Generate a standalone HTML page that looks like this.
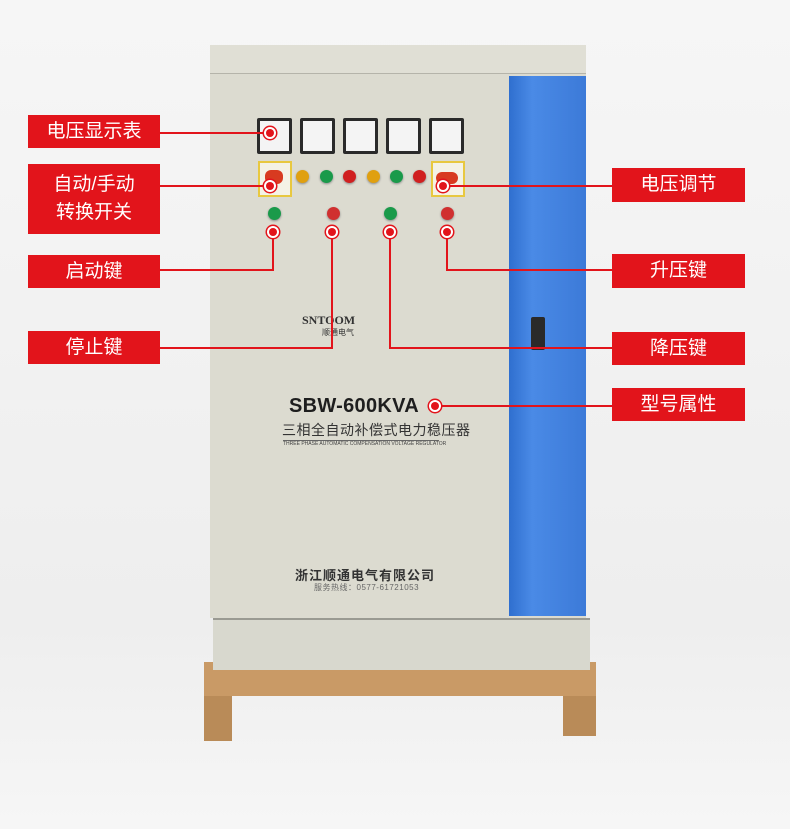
<!DOCTYPE html>
<html><head><meta charset="utf-8"><style>
body{margin:0;width:790px;height:829px;background:#f3f3f3;position:relative;overflow:hidden;font-family:"Liberation Sans","Noto Sans CJK SC",sans-serif}
.a{position:absolute}
.lbl{position:absolute;background:#e2141b;color:#fff;font-size:19px;text-align:center;box-sizing:border-box;display:flex;align-items:center;justify-content:center;line-height:1.45;font-family:"Liberation Sans","Noto Sans CJK SC",sans-serif}
.h{position:absolute;height:2px;background:#e2141b}
.v{position:absolute;width:2px;background:#e2141b}
.dot{position:absolute;width:8px;height:8px;border-radius:50%;background:#e2141b;box-shadow:0 0 0 2px #fff,0 0 0 3.5px #e2141b;transform:translate(-4px,-4px)}
.m{position:absolute;width:35px;height:36px;background:#2a2a2a;border-radius:2px}
.m i{position:absolute;left:3px;top:3px;right:3px;bottom:3px;background:#f4f4f4}
.lt{position:absolute;width:13px;height:13px;border-radius:50%;transform:translate(-6px,-6px);box-shadow:0 1px 2px #888}
</style></head><body>
<div class="a" style="left:0;top:0;width:790px;height:829px;background:linear-gradient(#f6f6f6,#eeeeee 75%,#f6f6f6)"></div>
<!-- pallet -->
<div class="a" style="left:204px;top:662px;width:392px;height:34px;background:#c99a66"></div>
<div class="a" style="left:204px;top:696px;width:28px;height:45px;background:#b98b58"></div>
<div class="a" style="left:563px;top:696px;width:33px;height:40px;background:#b98b58"></div>
<!-- bottom panel -->
<div class="a" style="left:213px;top:618px;width:377px;height:50px;background:#d8d8ce;border-top:2px solid #9a9a92"></div>
<!-- cabinet -->
<div class="a" style="left:210px;top:45px;width:376px;height:573px;background:#dcdbd0"></div>
<div class="a" style="left:210px;top:45px;width:376px;height:28px;background:#e0dfd5;border-bottom:1px solid #b5b4aa"></div>
<div class="a" style="left:509px;top:76px;width:77px;height:540px;background:linear-gradient(90deg,#2f6fcf,#4a8ae6 30%,#3c7ad8)"></div>
<div class="a" style="left:531px;top:317px;width:14px;height:33px;background:#2a2a2a;border-radius:2px"></div>
<!-- meters -->
<div class="m" style="left:257px;top:118px"><i></i></div>
<div class="m" style="left:300px;top:118px"><i></i></div>
<div class="m" style="left:343px;top:118px"><i></i></div>
<div class="m" style="left:386px;top:118px"><i></i></div>
<div class="m" style="left:429px;top:118px"><i></i></div>
<!-- switches -->
<div class="a" style="left:258px;top:161px;width:30px;height:32px;background:#f4f2e6;border:2px solid #e8c840"></div>
<div class="a" style="left:265px;top:170px;width:18px;height:14px;background:#d83a20;border-radius:6px"></div>
<div class="a" style="left:431px;top:161px;width:30px;height:32px;background:#f4f2e6;border:2px solid #e8c840"></div>
<div class="a" style="left:436px;top:172px;width:22px;height:12px;background:#d83a20;border-radius:6px"></div>
<!-- lights -->
<div class="lt" style="left:302px;top:176px;background:#e0a010"></div>
<div class="lt" style="left:326px;top:176px;background:#1a9a4a"></div>
<div class="lt" style="left:349px;top:176px;background:#d02020"></div>
<div class="lt" style="left:373px;top:176px;background:#e0a010"></div>
<div class="lt" style="left:396px;top:176px;background:#1a9a4a"></div>
<div class="lt" style="left:419px;top:176px;background:#d02020"></div>
<div class="lt" style="left:274px;top:213px;background:#1a9a4a"></div>
<div class="lt" style="left:333px;top:213px;background:#d03030"></div>
<div class="lt" style="left:390px;top:213px;background:#1a9a4a"></div>
<div class="lt" style="left:447px;top:213px;background:#d03030"></div>
<!-- text on cabinet -->
<div class="a" style="left:302px;top:313px;font-family:'Liberation Serif',serif;font-weight:bold;font-size:12px;color:#333">SNTOOM</div>
<div class="a" style="left:322px;top:327px;font-size:8px;color:#333">顺通电气</div>
<div class="a" style="left:289px;top:395px;font-weight:bold;font-size:20px;color:#1e1e1e;letter-spacing:0.3px">SBW-600KVA</div>
<div class="a" style="left:282px;top:420px;font-size:14px;color:#333;letter-spacing:0.5px">三相全自动补偿式电力稳压器</div>
<div class="a" style="left:283px;top:440px;width:156px;border-top:1px solid #666;font-size:5px;color:#444;white-space:nowrap">THREE PHASE AUTOMATIC COMPENSATION VOLTAGE REGULATOR</div>
<div class="a" style="left:295px;top:565px;font-weight:bold;font-size:13px;color:#333;letter-spacing:1px">浙江顺通电气有限公司</div>
<div class="a" style="left:314px;top:582px;font-size:8px;color:#666;letter-spacing:0.5px">服务热线：0577-61721053</div>
<!-- connectors -->
<div class="h" style="left:160px;top:132px;width:110px"></div>
<div class="h" style="left:160px;top:185px;width:110px"></div>
<div class="v" style="left:272px;top:232px;height:39px"></div>
<div class="h" style="left:160px;top:269px;width:114px"></div>
<div class="v" style="left:331px;top:232px;height:117px"></div>
<div class="h" style="left:160px;top:347px;width:173px"></div>
<div class="v" style="left:389px;top:232px;height:117px"></div>
<div class="h" style="left:389px;top:347px;width:223px"></div>
<div class="v" style="left:446px;top:232px;height:39px"></div>
<div class="h" style="left:446px;top:269px;width:166px"></div>
<div class="h" style="left:443px;top:185px;width:169px"></div>
<div class="h" style="left:435px;top:405px;width:177px"></div>
<div class="dot" style="left:270px;top:133px"></div>
<div class="dot" style="left:270px;top:186px"></div>
<div class="dot" style="left:273px;top:232px"></div>
<div class="dot" style="left:332px;top:232px"></div>
<div class="dot" style="left:390px;top:232px"></div>
<div class="dot" style="left:447px;top:232px"></div>
<div class="dot" style="left:443px;top:186px"></div>
<div class="dot" style="left:435px;top:406px"></div>
<!-- labels -->
<div class="lbl" style="left:28px;top:115px;width:132px;height:33px">电压显示表</div>
<div class="lbl" style="left:28px;top:164px;width:132px;height:70px">自动/手动<br>转换开关</div>
<div class="lbl" style="left:28px;top:255px;width:132px;height:33px">启动键</div>
<div class="lbl" style="left:28px;top:331px;width:132px;height:33px">停止键</div>
<div class="lbl" style="left:612px;top:168px;width:133px;height:34px">电压调节</div>
<div class="lbl" style="left:612px;top:254px;width:133px;height:34px">升压键</div>
<div class="lbl" style="left:612px;top:332px;width:133px;height:33px">降压键</div>
<div class="lbl" style="left:612px;top:388px;width:133px;height:33px">型号属性</div>
</body></html>
